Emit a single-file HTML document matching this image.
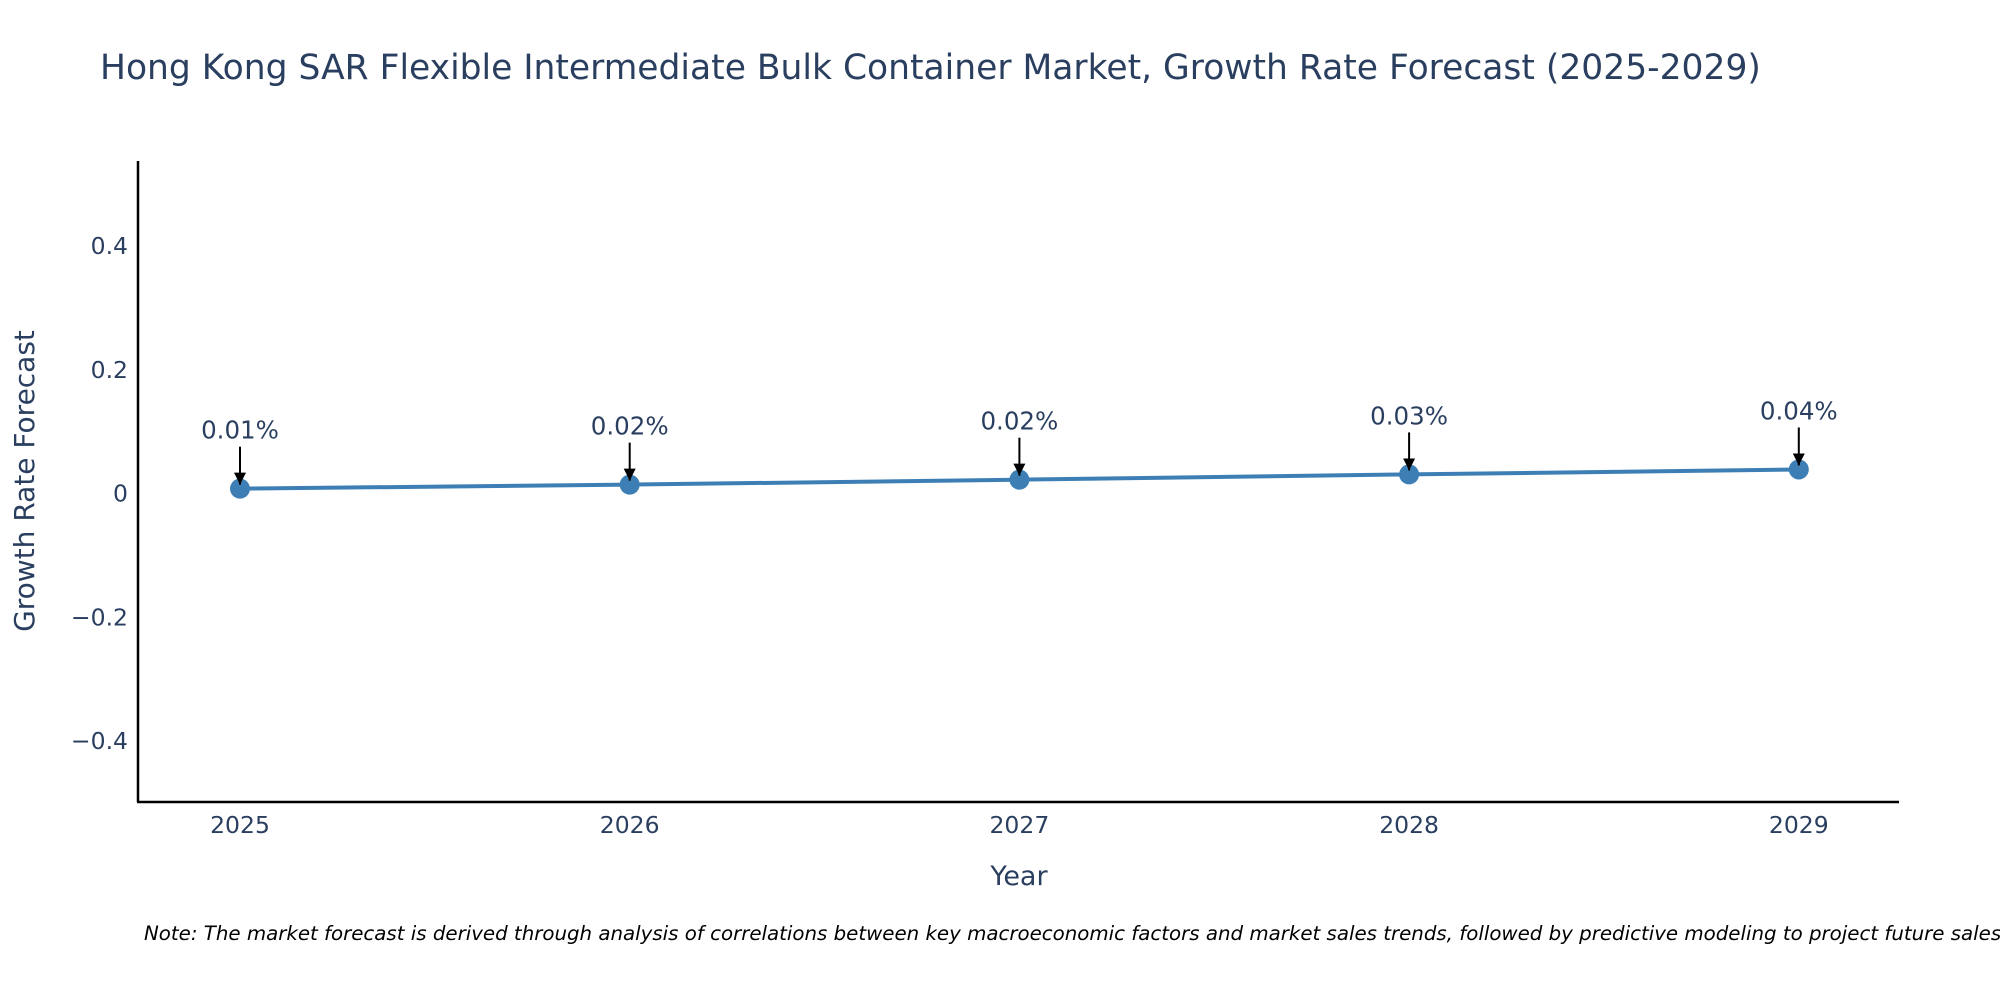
<!DOCTYPE html>
<html><head><meta charset="utf-8"><style>
html,body{margin:0;padding:0;background:#fff;}
svg{display:block;font-family:"DejaVu Sans","Liberation Sans",sans-serif;}
</style></head><body>
<svg id="chart" width="2000" height="1000" viewBox="0 0 2000 1000">
<text x="100" y="79" font-size="34.5" fill="#2a3f5f">Hong Kong SAR Flexible Intermediate Bulk Container Market, Growth Rate Forecast (2025-2029)</text>
<g id="yticks"></g><g id="xticks"></g>
<line x1="138" y1="161" x2="138" y2="802" stroke="#000" stroke-width="2.5"/>
<line x1="137" y1="802" x2="1899" y2="802" stroke="#000" stroke-width="2.5"/>
<g id="series"></g>
<text x="1019" y="885" font-size="27" fill="#2a3f5f" text-anchor="middle">Year</text>
<text transform="translate(34,481) rotate(-90)" font-size="28" fill="#2a3f5f" text-anchor="middle">Growth Rate Forecast</text>
<text x="144" y="940" font-size="19.8" font-style="italic" fill="#000">Note: The market forecast is derived through analysis of correlations between key macroeconomic factors and market sales trends, followed by predictive modeling to project future sales.</text>
<defs><marker id="ah" viewBox="0 0 10 10" refX="10" refY="5" markerWidth="12" markerHeight="12" markerUnits="userSpaceOnUse" orient="auto"><path d="M0,0L10,5L0,10z" fill="#000"/></marker></defs>
</svg>
<script>
const years=[2025,2026,2027,2028,2029];
const values=[0.008,0.0145,0.0225,0.031,0.039];
const labels=["0.01%","0.02%","0.02%","0.03%","0.04%"];
const yTicks=[-0.4,-0.2,0,0.2,0.4];
const yTickLabels=["\u22120.4","\u22120.2","0","0.2","0.4"];
const NS="http://www.w3.org/2000/svg";
const X=v=>240+(v-2025)*389.7;
const Y=v=>493.6-v*619;
function mk(t,a,p){const e=document.createElementNS(NS,t);for(const k in a)e.setAttribute(k,a[k]);p.appendChild(e);return e;}
const yt=document.getElementById('yticks');
yTicks.forEach((t,i)=>{const e=mk('text',{x:128,y:Y(t)+8,'font-size':23.5,fill:'#2a3f5f','text-anchor':'end'},yt);e.textContent=yTickLabels[i];

});
const xt=document.getElementById('xticks');
years.forEach(y=>{const e=mk('text',{x:X(y),y:833,'font-size':23.5,fill:'#2a3f5f','text-anchor':'middle'},xt);e.textContent=y;

});
const s=document.getElementById('series');
const line=mk('polyline',{points:years.map((y,i)=>X(y)+','+Y(values[i])).join(' '),fill:'none',stroke:'#3d7fb5','stroke-width':4},s);


years.forEach((y,i)=>{const cx=X(y),cy=Y(values[i]);
const c=mk('circle',{cx:cx,cy:cy,r:10,fill:'#3d7fb5'},s);


const a=mk('line',{x1:cx,y1:cy-42,x2:cx,y2:cy-4,stroke:'#000','stroke-width':2,'marker-end':'url(#ah)'},s);


const t=mk('text',{x:cx,y:cy-50,'font-size':24.5,fill:'#2a3f5f','text-anchor':'middle'},s);t.textContent=labels[i];

});
</script>
</body></html>
